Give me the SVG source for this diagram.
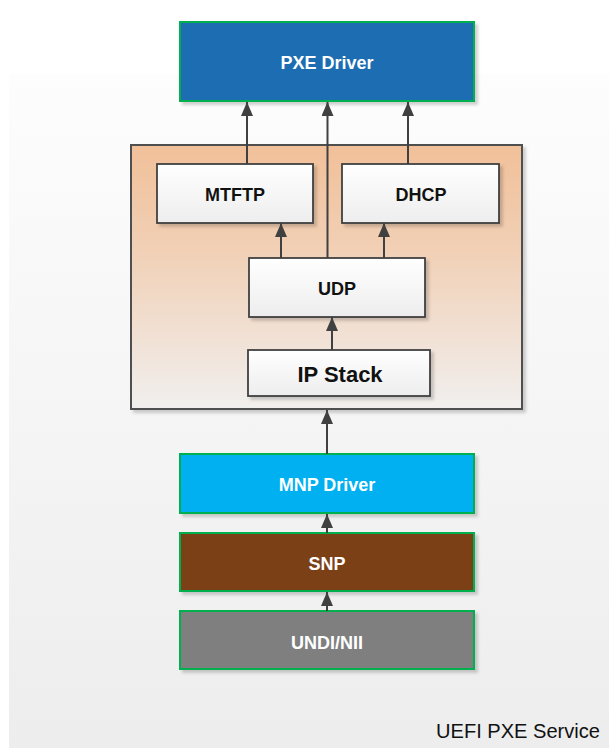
<svg xmlns="http://www.w3.org/2000/svg" width="609" height="748" viewBox="0 0 609 748">
  <defs>
    <linearGradient id="bg" x1="0" y1="0" x2="0" y2="1">
      <stop offset="0" stop-color="#fdfdfd"/>
      <stop offset="1" stop-color="#ededed"/>
    </linearGradient>
    <linearGradient id="peach" x1="0" y1="0" x2="0" y2="1">
      <stop offset="0" stop-color="#f1c099"/>
      <stop offset="0.4" stop-color="#f1d0b6"/>
      <stop offset="1" stop-color="#f1efee"/>
    </linearGradient>
    <linearGradient id="white" x1="0" y1="0" x2="0" y2="1">
      <stop offset="0" stop-color="#ffffff"/>
      <stop offset="1" stop-color="#ededed"/>
    </linearGradient>
    <filter id="sh" x="-5%" y="-5%" width="115%" height="120%">
      <feDropShadow dx="3" dy="3" stdDeviation="1.5" flood-color="#000" flood-opacity="0.18"/>
    </filter>
    <marker id="arr" viewBox="0 0 14 12" refX="14" refY="6" markerWidth="14" markerHeight="12" markerUnits="userSpaceOnUse" orient="auto">
      <path d="M0,0 L14,6 L0,12 z" fill="#404040"/>
    </marker>
  </defs>
  <style>
    .lbl { font-family: "Liberation Sans", Arial, sans-serif; font-weight: bold; font-size: 18px; text-anchor: middle; }
    .wt { fill: #ffffff; }
    .bk { fill: #111111; }
    .color { stroke: #00b050; stroke-width: 2; filter: url(#sh); }
    .inner { fill: url(#white); stroke: #404040; stroke-width: 1.8; filter: url(#sh); }
    .conn path { fill: none; stroke: #404040; stroke-width: 2; marker-end: url(#arr); }
  </style>

  <rect x="9" y="74" width="600" height="674" fill="url(#bg)"/>

  <g id="pxe">
    <rect class="color" x="180" y="22" width="294" height="79" fill="#1e6db2"/>
    <text class="lbl wt" x="327" y="69">PXE Driver</text>
  </g>

  <g id="stack">
    <rect x="131" y="145" width="391" height="264" fill="url(#peach)" stroke="#505050" stroke-width="2" filter="url(#sh)"/>
  </g>

  <g id="mtftp">
    <rect class="inner" x="157" y="164" width="156" height="59"/>
    <text class="lbl bk" x="235" y="201">MTFTP</text>
  </g>

  <g id="dhcp">
    <rect class="inner" x="342" y="164" width="157" height="59"/>
    <text class="lbl bk" x="421" y="201">DHCP</text>
  </g>

  <g id="udp">
    <rect class="inner" x="249" y="258" width="176" height="59"/>
    <text class="lbl bk" x="337" y="295">UDP</text>
  </g>

  <g id="ipstack">
    <rect class="inner" x="248" y="350" width="182" height="46"/>
    <text class="lbl bk" x="340" y="382" style="font-size:22px">IP Stack</text>
  </g>

  <g id="mnp">
    <rect class="color" x="180" y="454" width="294" height="59" fill="#00b0f0"/>
    <text class="lbl wt" x="327" y="491">MNP Driver</text>
  </g>

  <g id="snp">
    <rect class="color" x="180" y="533" width="294" height="58" fill="#7b3f12"/>
    <text class="lbl wt" x="327" y="570">SNP</text>
  </g>

  <g id="undi">
    <rect class="color" x="180" y="611" width="294" height="58" fill="#7f7f7f"/>
    <text class="lbl wt" x="327" y="649">UNDI/NII</text>
  </g>

  <g id="connectors" class="conn">
    <path d="M247,164 L247,102"/>
    <path d="M327.5,258 L327.5,102"/>
    <path d="M408,164 L408,102"/>
    <path d="M281,258 L281,223"/>
    <path d="M384,258 L384,223"/>
    <path d="M332,350 L332,317"/>
    <path d="M327,454 L327,410"/>
    <path d="M327,533 L327,514"/>
    <path d="M327,611 L327,592"/>
  </g>

  <text x="436" y="738" font-family="Liberation Sans, Arial, sans-serif" font-size="21" fill="#111111" textLength="164" lengthAdjust="spacingAndGlyphs">UEFI PXE Service</text>
</svg>
